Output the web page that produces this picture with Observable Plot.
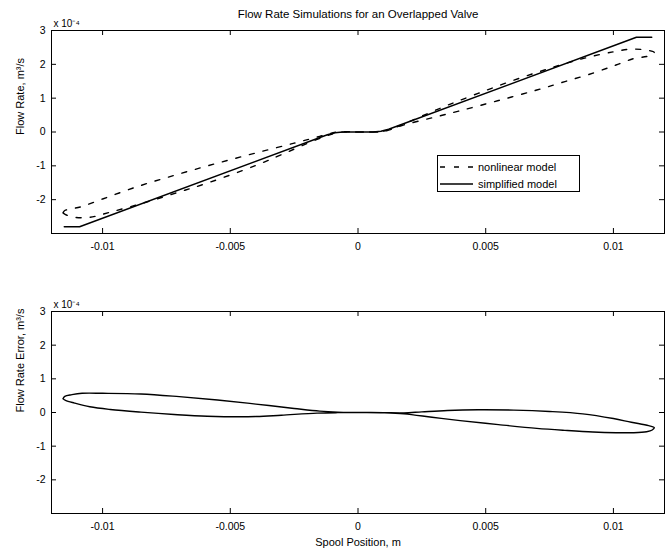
<!DOCTYPE html>
<html><head><meta charset="utf-8">
<script src="https://cdn.jsdelivr.net/npm/d3@7"></script>
<script src="https://cdn.jsdelivr.net/npm/@observablehq/plot@0.6"></script>
<style>
body{margin:0;background:#fff;font-family:"Liberation Sans",Arial,sans-serif;}
#wrap{position:relative;width:665px;height:553px;overflow:hidden;background:#fff;}
#topPanel,#botPanel{position:absolute;left:0;}
#topPanel{top:0;}
#botPanel{top:275px;}
#legend{position:absolute;left:437px;top:155px;width:141px;height:35px;border:1px solid #000;background:#fff;font-size:11px;color:#000;}
#legend .row{position:absolute;left:0;height:14px;display:flex;align-items:center;}
#legend svg{margin-left:2px;margin-right:5px;}
</style></head><body>
<div id="wrap"><div id="topPanel"></div><div id="botPanel"></div><div id="legend"></div></div>
<script>
// ---- data (flow rates in units of 1e-4 m^3/s, spool position in m) ----
const title = "Flow Rate Simulations for an Overlapped Valve";
const xTicks = [-0.01, -0.005, 0, 0.005, 0.01];
const xTickLabels = ["-0.01", "-0.005", "0", "0.005", "0.01"];
const yTicks = [-2, -1, 0, 1, 2, 3];
const yTickLabels = ["-2", "-1", "0", "1", "2", "3"];
const seriesNames = ["nonlinear model", "simplified model"];

const simplifiedX = [-0.0115, -0.0109, -0.0012, -0.0009, -0.0006, 0.0006, 0.0009, 0.0012, 0.0109, 0.0115];
const simplifiedY = [-2.8, -2.8, -0.08, -0.02, 0, 0, 0.02, 0.08, 2.8, 2.8];

const nonlinearX = [-0.01155, -0.01148, -0.0112, -0.0108, -0.0100, -0.0085, -0.0070, -0.0055, -0.0040, -0.0025, -0.0015, -0.0008, 0, 0.0010, 0.0018, 0.0029, 0.0040, 0.0055, 0.0070, 0.0081, 0.0092, 0.0101, 0.0108, 0.0113, 0.01152, 0.0116, 0.01138, 0.0107, 0.0100, 0.0088, 0.0075, 0.0061, 0.0047, 0.0035, 0.0025, 0.0018, 0.0010, 0, -0.0008, -0.0016, -0.0030, -0.0040, -0.0059, -0.0072, -0.0085, -0.0097, -0.0105, -0.0111, -0.01145, -0.01155];
const nonlinearY = [-2.39, -2.32, -2.27, -2.20, -1.98, -1.58, -1.24, -0.92, -0.62, -0.33, -0.13, 0, 0, 0.02, 0.21, 0.42, 0.63, 0.93, 1.24, 1.49, 1.74, 1.98, 2.17, 2.23, 2.28, 2.35, 2.41, 2.45, 2.37, 2.17, 1.88, 1.53, 1.14, 0.79, 0.47, 0.24, 0.025, 0, -0.02, -0.22, -0.67, -0.99, -1.51, -1.82, -2.12, -2.37, -2.52, -2.52, -2.44, -2.39];

const errorX = [-0.01155, -0.01148, -0.0112, -0.0108, -0.0100, -0.0085, -0.0070, -0.0055, -0.0040, -0.0025, -0.0015, -0.0008, 0, 0.0010, 0.0018, 0.0029, 0.0040, 0.0055, 0.0070, 0.0081, 0.0092, 0.0101, 0.0108, 0.0113, 0.01152, 0.0116, 0.01138, 0.0107, 0.0100, 0.0088, 0.0075, 0.0061, 0.0047, 0.0035, 0.0025, 0.0018, 0.0010, 0, -0.0008, -0.0016, -0.0030, -0.0040, -0.0059, -0.0072, -0.0085, -0.0097, -0.0105, -0.0111, -0.01145, -0.01155];
const errorY = [0.41, 0.48, 0.53, 0.57, 0.57, 0.55, 0.47, 0.37, 0.25, 0.12, 0.04, 0.01, 0, -0.01, -0.04, -0.14, -0.24, -0.36, -0.47, -0.53, -0.58, -0.60, -0.60, -0.57, -0.52, -0.45, -0.39, -0.29, -0.18, -0.04, 0.03, 0.07, 0.08, 0.06, 0.02, -0.01, -0.005, 0, -0.005, -0.02, -0.08, -0.12, -0.11, -0.06, 0.01, 0.09, 0.17, 0.28, 0.36, 0.41];

const toRows = (xs, ys) => xs.map((x, i) => ({x, y: ys[i]}));
const simplified = toRows(simplifiedX, simplifiedY);
const nonlinear = toRows(nonlinearX, nonlinearY);
const errorLoop = toRows(errorX, errorY);

const FONT = "'Liberation Sans', Arial, sans-serif";
const DASH = "5,9";
const TICK = 5;

function axes(frameW, frameH) {
  const xf = d => xTickLabels[xTicks.indexOf(d)];
  const yf = d => yTickLabels[yTicks.indexOf(d)];
  return [
    Plot.frame({stroke: "black", strokeWidth: 1}),
    // inward tick marks on all four sides
    Plot.ruleX(xTicks, {x: d => d, stroke: "black", insetTop: frameH - TICK}),
    Plot.ruleX(xTicks, {x: d => d, stroke: "black", insetBottom: frameH - TICK}),
    Plot.ruleY(yTicks, {y: d => d, stroke: "black", insetRight: frameW - TICK}),
    Plot.ruleY(yTicks, {y: d => d, stroke: "black", insetLeft: frameW - TICK}),
    Plot.axisX(xTicks, {anchor: "bottom", tickSize: 0, tickPadding: 9, tickFormat: xf, label: null, fontSize: 10.5}),
    Plot.axisY(yTicks, {anchor: "left", tickSize: 0, tickPadding: 6, tickFormat: yf, label: null, fontSize: 10.5})
  ];
}

const W = 665, ML = 51, MR = 1;
const topH = 275, topMT = 30, topMB = 42;
const topChart = Plot.plot({
  width: W, height: topH,
  marginLeft: ML, marginRight: MR, marginTop: topMT, marginBottom: topMB,
  style: {fontFamily: FONT, fontSize: "10.5px", background: "white", color: "black", overflow: "visible"},
  x: {domain: [-0.012, 0.012]},
  y: {domain: [-3, 3]},
  marks: [
    ...axes(W - ML - MR, topH - topMT - topMB),
    Plot.line(nonlinear, {x: "x", y: "y", stroke: "black", strokeWidth: 1.4, strokeDasharray: DASH, curve: "catmull-rom"}),
    Plot.line(simplified, {x: "x", y: "y", stroke: "black", strokeWidth: 1.5, curve: "linear"}),
    Plot.text([title], {text: d => d, frameAnchor: "top", dy: -21, fontSize: 11.5}),
    Plot.text(["x 10⁻⁴"], {text: d => d, frameAnchor: "top-left", dx: 2, dy: -11, textAnchor: "start", fontSize: 10}),
    Plot.text(["Flow Rate, m³/s"], {text: d => d, frameAnchor: "left", dx: -31, dy: 3, rotate: -90, fontSize: 11})
  ]
});
document.getElementById("topPanel").append(topChart);

const botH = 278, botMT = 36, botMB = 40;
const botChart = Plot.plot({
  width: W, height: botH,
  marginLeft: ML, marginRight: MR, marginTop: botMT, marginBottom: botMB,
  style: {fontFamily: FONT, fontSize: "10.5px", background: "white", color: "black", overflow: "visible"},
  x: {domain: [-0.012, 0.012]},
  y: {domain: [-3, 3]},
  marks: [
    ...axes(W - ML - MR, botH - botMT - botMB),
    Plot.line(errorLoop, {x: "x", y: "y", stroke: "black", strokeWidth: 1.4, curve: "catmull-rom"}),
    Plot.text(["x 10⁻⁴"], {text: d => d, frameAnchor: "top-left", dx: 2, dy: -11, textAnchor: "start", fontSize: 10}),
    Plot.text(["Flow Rate Error, m³/s"], {text: d => d, frameAnchor: "left", dx: -31, rotate: -90, fontSize: 11}),
    Plot.text(["Spool Position, m"], {text: d => d, frameAnchor: "bottom", dy: 32, fontSize: 11})
  ]
});
document.getElementById("botPanel").append(botChart);

// legend
const legendBox = document.getElementById("legend");
seriesNames.forEach((name, i) => {
  const row = document.createElement("div");
  row.className = "row";
  row.style.top = (i === 0 ? 4 : 21) + "px";
  const dash = i === 0 ? `stroke-dasharray="${DASH}"` : "";
  row.innerHTML = `<svg width="33" height="6"><line x1="0" y1="3" x2="33" y2="3" stroke="black" stroke-width="1.4" ${dash}/></svg><span>${name}</span>`;
  legendBox.append(row);
});
</script>
</body></html>
